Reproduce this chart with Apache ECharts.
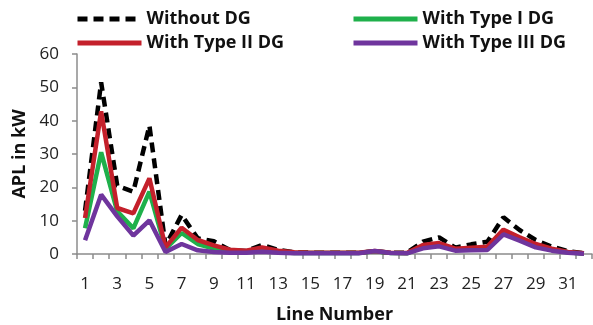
<!DOCTYPE html>
<html>
<head>
<meta charset="utf-8">
<script src="https://cdn.jsdelivr.net/npm/echarts@6/dist/echarts.min.js"></script>
<style>html,body{margin:0;padding:0;background:#fff}#c{width:593px;height:325px}</style>
</head>
<body>
<div id="c"></div>
<script>
const categories = Array.from({length: 32}, (_, i) => String(i + 1));
const withoutDG = [13, 51.5, 20.5, 18.7, 38.5, 2.5, 11.7, 4.7, 3.8, 1.2, 0.9, 2.7, 1.2, 0.5, 0.4, 0.4, 0.4, 0.4, 0.8, 0.4, 0.4, 3.7, 5, 1.9, 2.9, 3.7, 11, 7.2, 4.2, 2.2, 0.9, 0.2];
const typeI = [7.7, 30.5, 12.8, 7.7, 18.7, 1.5, 6.3, 3.0, 1.6, 0.8, 0.6, 1.2, 0.6, 0.3, 0.3, 0.3, 0.3, 0.3, 0.8, 0.3, 0.2, 2.2, 2.9, 1.3, 1.5, 1.6, 6.6, 4.6, 2.5, 1.3, 0.5, 0.1];
const typeII = [10.8, 42.8, 13.8, 12.2, 22.7, 2.0, 7.9, 4.2, 2.6, 1.3, 1.0, 2.0, 1.0, 0.5, 0.4, 0.4, 0.4, 0.4, 0.9, 0.4, 0.3, 2.7, 3.3, 1.6, 1.9, 2.2, 7.3, 5.0, 3.0, 1.6, 0.6, 0.2];
const typeIII = [4.1, 17.8, 11.3, 5.5, 10.1, 0.6, 3.0, 1.1, 0.6, 0.4, 0.4, 0.7, 0.4, 0.2, 0.2, 0.2, 0.2, 0.2, 0.9, 0.3, 0.2, 1.7, 2.3, 1.0, 1.1, 1.2, 5.9, 4.0, 2.0, 1.0, 0.4, 0.1];
const yTicks = {min: 0, max: 60, interval: 10};

const FONT = '"Open Sans", sans-serif';
const chart = echarts.init(document.getElementById('c'), null, {renderer: 'canvas'});
const legendText = {fontFamily: FONT, fontWeight: 'bold', fontSize: 18, color: '#111'};
function mk(name, data, color, dashed, z) {
  return {
    name, type: 'line', data, symbol: 'none', z, animation: false,
    lineStyle: {color, width: 4.5, type: dashed ? [10, 6] : 'solid'},
    itemStyle: {color}
  };
}
const legendCommon = {orient: 'vertical', top: 5, itemWidth: 64, itemHeight: 14, itemGap: 6, textStyle: legendText, itemStyle: {opacity: 0}, lineStyle: {width: 5}};
chart.setOption({
  animation: false,
  legend: [
    Object.assign({data: ['Without DG', 'With Type II DG'], left: 70}, legendCommon),
    Object.assign({data: ['With Type I DG', 'With Type III DG'], left: 346}, legendCommon)
  ],
  grid: {left: 77, right: 1, top: 54, bottom: 71, containLabel: false, outerBoundsMode: 'none'},
  xAxis: {
    type: 'category', data: categories, boundaryGap: true,
    name: 'Line Number', nameLocation: 'middle', nameGap: 52,
    nameTextStyle: {fontFamily: FONT, fontWeight: 'bold', fontSize: 18, color: '#111'},
    axisLine: {lineStyle: {color: '#8c8c8c', width: 1.5}},
    axisTick: {show: true, interval: 0, length: 5, lineStyle: {color: '#8c8c8c', width: 1.5}},
    axisLabel: {interval: 1, fontFamily: FONT, fontSize: 17, color: '#222', margin: 22},
    splitLine: {show: false}
  },
  yAxis: {
    type: 'value', min: yTicks.min, max: yTicks.max, interval: yTicks.interval,
    name: 'APL in kW', nameLocation: 'middle', nameGap: 46, nameRotate: 90,
    nameTextStyle: {fontFamily: FONT, fontWeight: 'bold', fontSize: 18, color: '#111'},
    axisLine: {show: true, lineStyle: {color: '#8c8c8c', width: 1.5}},
    axisTick: {show: true, length: 5, lineStyle: {color: '#8c8c8c', width: 1.5}},
    axisLabel: {fontFamily: FONT, fontSize: 17, color: '#222', margin: 18},
    splitLine: {show: false}
  },
  series: [
    mk('Without DG', withoutDG, '#000000', true, 2),
    mk('With Type I DG', typeI, '#1fb04b', false, 3),
    mk('With Type II DG', typeII, '#c4202b', false, 4),
    mk('With Type III DG', typeIII, '#6f359d', false, 5)
  ]
});
</script>
</body>
</html>
